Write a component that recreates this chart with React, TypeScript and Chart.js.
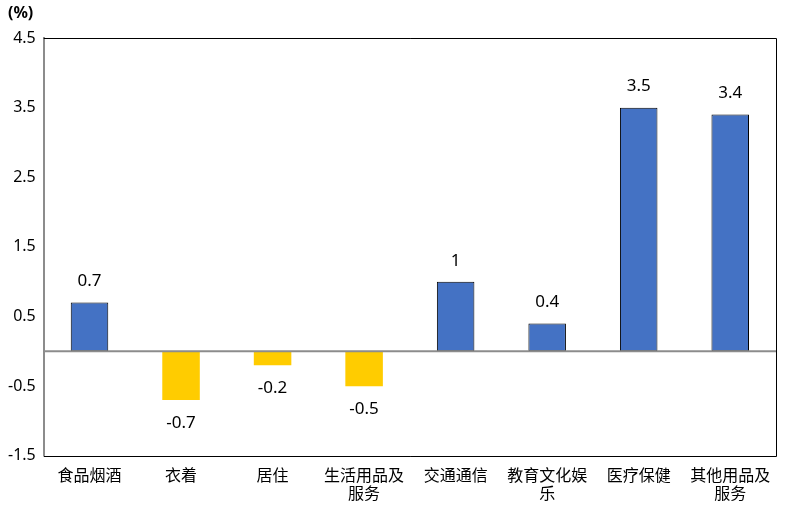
import React, { useEffect, useRef } from "react";
import { Chart, registerables } from "chart.js";

Chart.register(...registerables);

const categories: (string | string[])[] = [
  "食品烟酒",
  "衣着",
  "居住",
  ["生活用品及", "服务"],
  "交通通信",
  ["教育文化娱", "乐"],
  "医疗保健",
  ["其他用品及", "服务"],
];
const values = [0.7, -0.7, -0.2, -0.5, 1, 0.4, 3.5, 3.4];
const yTicks = [-1.5, -0.5, 0.5, 1.5, 2.5, 3.5, 4.5];
const unitLabel = "(%)";

const BLUE = "#4472C4";
const YELLOW = "#FFCC00";
const FONT = "'Noto Sans', 'Noto Sans CJK SC', sans-serif";

export default function App() {
  const ref = useRef<HTMLCanvasElement | null>(null);
  useEffect(() => {
    if (!ref.current) return;
    const decor = {
      id: "decor",
      beforeDatasetsDraw(chart: any) {
        const { ctx, chartArea } = chart;
        ctx.save();
        ctx.strokeStyle = "#000";
        ctx.lineWidth = 1;
        ctx.beginPath();
        ctx.moveTo(chartArea.left, Math.round(chartArea.top) + 0.5);
        ctx.lineTo(Math.round(chartArea.right) + 0.5, Math.round(chartArea.top) + 0.5);
        ctx.lineTo(Math.round(chartArea.right) + 0.5, Math.round(chartArea.bottom) + 0.5);
        ctx.lineTo(chartArea.left, Math.round(chartArea.bottom) + 0.5);
        ctx.stroke();
        ctx.restore();
      },
      afterDatasetsDraw(chart: any) {
        const { ctx, chartArea } = chart;
        const y = chart.scales.y;
        const meta = chart.getDatasetMeta(0);
        ctx.save();
        const zy = y.getPixelForValue(0);
        ctx.strokeStyle = "#8c8c8c";
        ctx.lineWidth = 2;
        ctx.beginPath();
        ctx.moveTo(chartArea.left, zy);
        ctx.lineTo(chartArea.right, zy);
        ctx.stroke();
        ctx.fillStyle = "#000";
        ctx.font = `17px ${FONT}`;
        ctx.textAlign = "center";
        ctx.textBaseline = "middle";
        meta.data.forEach((bar: any, i: number) => {
          const v = values[i];
          const ty = v >= 0 ? bar.y - 21 : bar.y + 23;
          ctx.fillText(String(v), bar.x, ty);
        });
        ctx.font = `bold 16px ${FONT}`;
        ctx.textAlign = "left";
        ctx.fillText(unitLabel, 8, 13);
        ctx.restore();
      },
    };
    const chart = new Chart(ref.current, {
      type: "bar",
      data: {
        labels: categories,
        datasets: [
          {
            data: values,
            backgroundColor: values.map((v) => (v >= 0 ? BLUE : YELLOW)),
            borderColor: values.map((v) => (v >= 0 ? "#000" : YELLOW)),
            borderWidth: values.map((v) => (v >= 0 ? 1 : 0)),
            borderSkipped: false,
            categoryPercentage: 1,
            barPercentage: 0.41,
          },
        ],
      },
      options: {
        animation: false,
        responsive: false,
        maintainAspectRatio: false,
        layout: { padding: { top: 38, right: 9, left: 0, bottom: -8 } },
        plugins: { legend: { display: false }, tooltip: { enabled: false } },
        scales: {
          x: {
            grid: { display: false, drawTicks: false },
            border: { display: false },
            ticks: {
              color: "#000",
              font: { family: FONT, size: 16, lineHeight: 1.1 },
              padding: 12,
              maxRotation: 0,
              autoSkip: false,
            },
          },
          y: {
            min: -1.5,
            max: 4.5,
            afterBuildTicks(scale: any) {
              scale.ticks = yTicks.map((v) => ({ value: v }));
            },
            grid: { display: false, drawTicks: false },
            border: { display: true, color: "#8c8c8c", width: 2 },
            ticks: {
              color: "#000",
              font: { family: FONT, size: 16 },
              padding: 8,
              callback: (v: any) => String(v),
            },
          },
        },
      },
      plugins: [decor],
    });
    return () => chart.destroy();
  }, []);
  return (
    <div style={{ position: "fixed", left: 0, top: 0, width: 785, height: 507, background: "#fff" }}>
      <canvas ref={ref} width={785} height={507} style={{ width: 785, height: 507 }} />
    </div>
  );
}
